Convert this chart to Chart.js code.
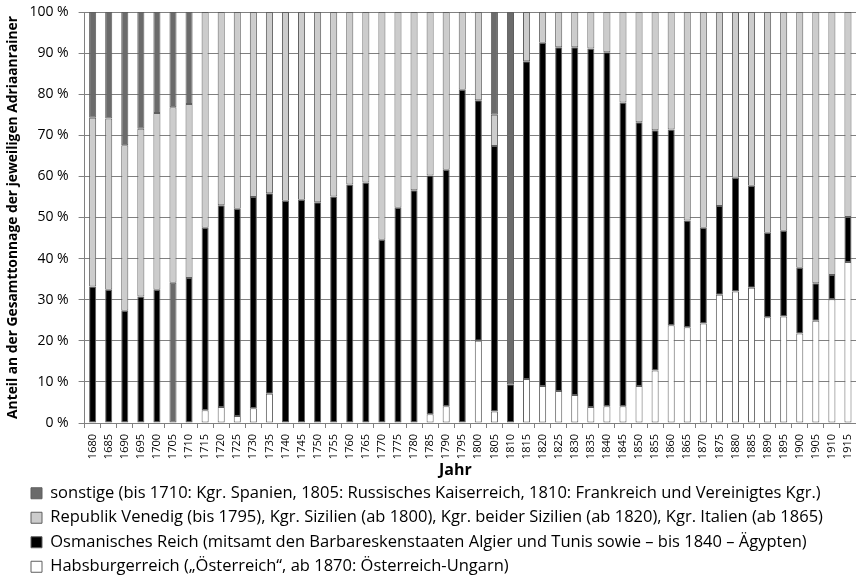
<!DOCTYPE html>
<html><head><meta charset="utf-8">
<script src="https://cdn.jsdelivr.net/npm/chart.js@4/dist/chart.umd.min.js"></script>
<style>html,body{margin:0;padding:0;background:#fff}canvas{display:block}</style>
</head><body>
<canvas id="c" width="856" height="577"></canvas>
<script>
const years = [1680,1685,1690,1695,1700,1705,1710,1715,1720,1725,1730,1735,1740,1745,1750,1755,1760,1765,1770,1775,1780,1785,1790,1795,1800,1805,1810,1815,1820,1825,1830,1835,1840,1845,1850,1855,1860,1865,1870,1875,1880,1885,1890,1895,1900,1905,1910,1915];
const habsburg = [0,0,0,0,0,0,0,3.1,3.9,1.7,3.6,7.1,0,0,0,0,0,0,0,0,0,2.1,4.1,0,20,2.8,0,10.7,9,7.8,6.8,3.9,4.1,4.1,9,12.8,23.8,23.3,24.2,31.2,32,32.9,25.7,25.9,21.8,24.9,30.1,39.2];
const osman = [33.2,32.4,27.3,30.8,32.4,34.1,35.3,44.4,49.1,50.4,51.4,48.8,54.1,54.3,53.7,55.1,58.0,58.5,44.6,52.4,56.6,58.1,57.5,81.1,58.5,64.6,9.4,77.3,83.5,83.6,84.6,87.2,86.1,73.9,64.2,58.4,47.6,26,23.3,21.6,27.7,24.8,20.6,20.9,16,9.1,5.9,10.9];
const venedig = [41.1,41.7,40.3,40.8,43,42.7,42.3,52.5,47,47.9,45,44.1,45.9,45.7,46.3,44.9,42,41.5,55.4,47.6,43.4,39.8,38.4,18.9,21.5,7.6,0,12,7.5,8.6,8.6,8.9,9.8,22,26.8,28.8,28.6,50.7,52.5,47.2,40.3,42.3,53.7,53.2,62.2,66,64,49.9];
const sonstige = [25.7,25.9,32.4,28.4,24.6,23.2,22.4,0,0,0,0,0,0,0,0,0,0,0,0,0,0,0,0,0,0,25,90.6,0,0,0,0,0,0,0,0,0,0,0,0,0,0,0,0,0,0,0,0,0];
const yTicks = [0,10,20,30,40,50,60,70,80,90,100];
const seriesNames = [
  'Habsburgerreich (\u201eÖsterreich\u201c, ab 1870: Österreich-Ungarn)',
  'Osmanisches Reich (mitsamt den Barbareskenstaaten Algier und Tunis sowie \u2013 bis 1840 \u2013 Ägypten)',
  'Republik Venedig (bis 1795), Kgr. Sizilien (ab 1800), Kgr. beider Sizilien (ab 1820), Kgr. Italien (ab 1865)',
  'sonstige (bis 1710: Kgr. Spanien, 1805: Russisches Kaiserreich, 1810: Frankreich und Vereinigtes Kgr.)'
];
const FONT = "'Open Sans', sans-serif";
const osmanColors = years.map(y => y === 1705 ? '#6b6b6b' : '#000000');

const layoutTweaks = {
  id: 'layoutTweaks',
  afterLayout(chart) {
    const l = chart.legend;
    if (l) { l.left += 20; l.right += 20; l.top += 8; l.bottom += 8; }
    const x = chart.scales.x;
    if (x && !x._titleShifted) {
      const orig = x.drawTitle.bind(x);
      x.drawTitle = function () {
        const L = this.left, R = this.right;
        this.left -= 15; this.right -= 15;
        orig();
        this.left = L; this.right = R;
      };
      x._titleShifted = true;
    }
  }
};

const common = { borderColor: '#5f5f5f', borderWidth: 1, barPercentage: 0.44, categoryPercentage: 1, borderSkipped: false };
new Chart(document.getElementById('c'), {
  type: 'bar',
  data: {
    labels: years.map(String),
    datasets: [
      Object.assign({ label: seriesNames[0], data: habsburg, backgroundColor: '#ffffff' }, common),
      Object.assign({ label: seriesNames[1], data: osman, backgroundColor: osmanColors }, common),
      Object.assign({ label: seriesNames[2], data: venedig, backgroundColor: '#cccccc' }, common),
      Object.assign({ label: seriesNames[3], data: sonstige, backgroundColor: '#6b6b6b' }, common)
    ]
  },
  plugins: [layoutTweaks],
  options: {
    responsive: false,
    animation: false,
    layout: { padding: { top: 12, right: -7, left: 3, bottom: 0 } },
    plugins: {
      tooltip: { enabled: false },
      legend: {
        position: 'bottom',
        align: 'start',
        reverse: true,
        labels: {
          boxWidth: 11, boxHeight: 11, padding: 8,
          color: '#000',
          font: { family: FONT, size: 16.5 },
          generateLabels(chart) {
            const fills = ['#ffffff', '#000000', '#cccccc', '#6b6b6b'];
            return chart.data.datasets.map((ds, i) => ({
              text: ds.label, fillStyle: fills[i], strokeStyle: '#5f5f5f', lineWidth: 1,
              datasetIndex: i, hidden: false
            }));
          }
        }
      }
    },
    scales: {
      x: {
        stacked: true,
        afterFit(scale) { scale.paddingRight = 0; scale.paddingLeft = 0; scale.height = 46; },
        grid: { drawOnChartArea: false, drawTicks: true, tickLength: 5, color: '#808080', offset: true },
        border: { color: '#808080' },
        ticks: { color: '#000', font: { family: FONT, size: 11 }, minRotation: 90, maxRotation: 90, autoSkip: false, padding: 6 },
        title: { display: true, text: 'Jahr', color: '#000', font: { family: FONT, size: 16, weight: 'bold' }, padding: { top: 0, bottom: -11 } }
      },
      y: {
        stacked: true,
        min: 0, max: 100,
        afterFit(scale) { scale.paddingTop = 0; scale.paddingBottom = 0; scale.width = 81.6; },
        afterBuildTicks(axis) { axis.ticks = yTicks.map(v => ({ value: v })); },
        grid: { color: '#808080', tickLength: 6, drawTicks: true },
        border: { color: '#808080' },
        ticks: { color: '#000', font: { family: FONT, size: 14 }, padding: 10, callback: v => v + ' %' },
        title: { display: true, text: 'Anteil an der Gesamttonnage der jeweiligen Adriaanrainer', color: '#000', font: { family: FONT, size: 13.8, weight: 'bold' }, padding: { top: 2, bottom: 2 } }
      }
    }
  }
});
</script>
</body></html>
